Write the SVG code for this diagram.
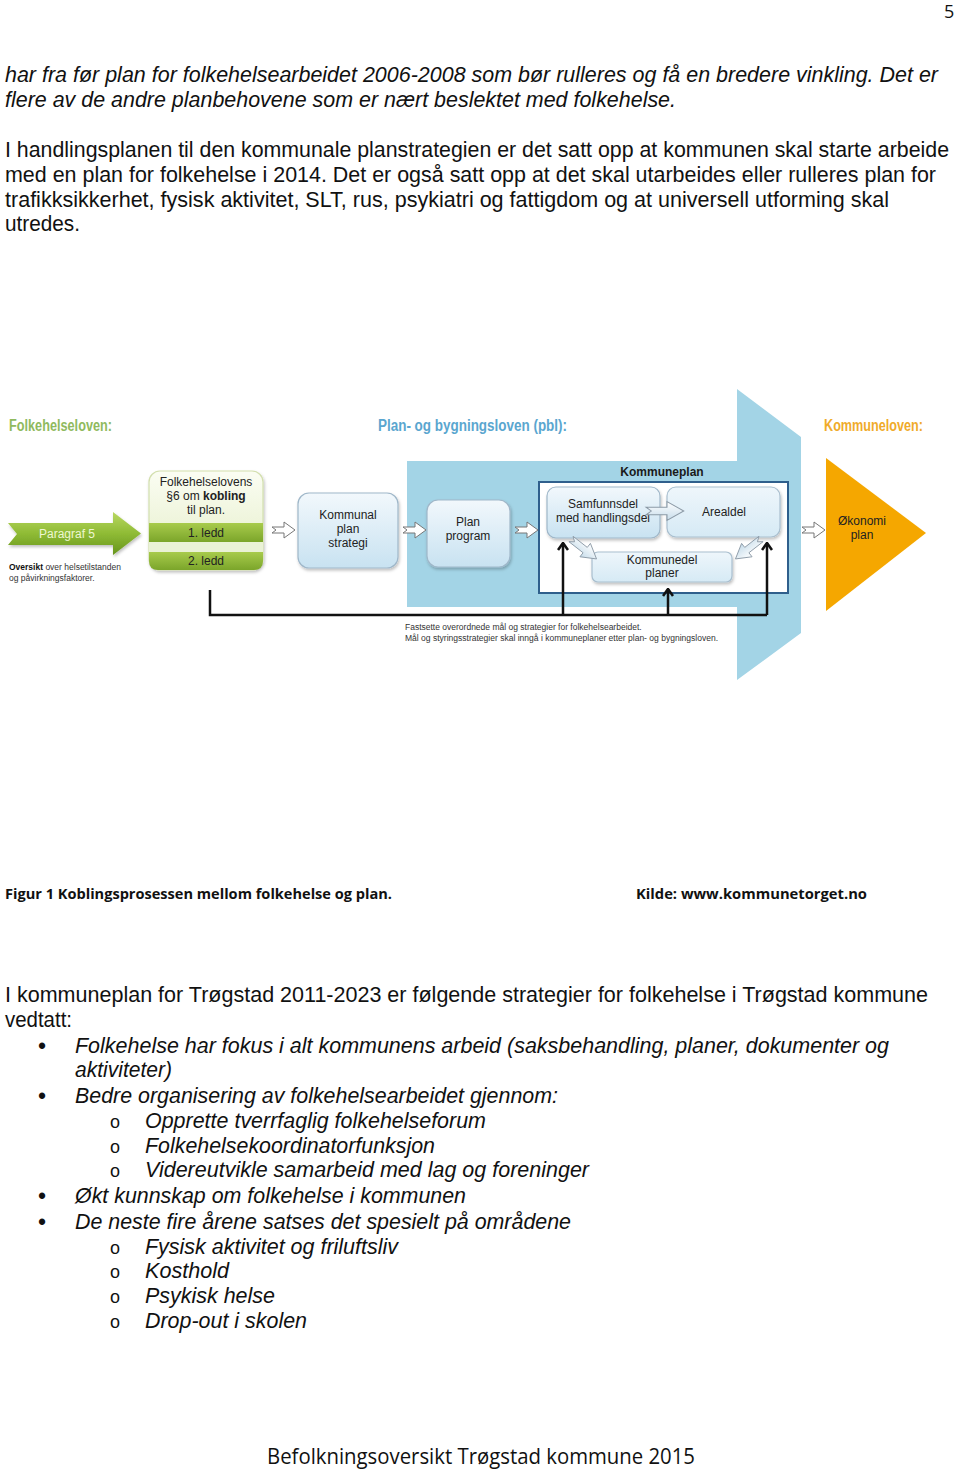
<svg xmlns="http://www.w3.org/2000/svg" width="960" height="1470" viewBox="0 0 960 1470">
<style>
.body{font-family:"Liberation Sans",Arial,sans-serif;font-size:22px;fill:#111}
.it{font-style:italic}
.cal{font-family:"Open Sans","Liberation Sans",sans-serif;fill:#111}
.dg{font-family:"Liberation Sans",Arial,sans-serif;fill:#222;text-anchor:middle;font-size:12px}
.hdr{font-family:"Liberation Sans",Arial,sans-serif;font-weight:bold;font-size:16px}
.small{font-family:"Liberation Sans",Arial,sans-serif;font-size:8.5px;fill:#333}
.bx{fill:url(#gBlue);stroke:#9fb7c9;stroke-width:1.2}
.sa{fill:#fff;stroke:#777;stroke-width:1}
.ba{fill:url(#gArr);stroke:#8c9aa6;stroke-width:1}
.ln{fill:none;stroke:#111;stroke-width:2.5}
</style>
<defs>
<linearGradient id="gBlue" x1="0" y1="0" x2="0" y2="1"><stop offset="0" stop-color="#f2f8fc"/><stop offset="1" stop-color="#c8e2f1"/></linearGradient>
<linearGradient id="gBlue2" x1="0" y1="0" x2="0" y2="1"><stop offset="0" stop-color="#eef6fb"/><stop offset="1" stop-color="#d6eaf5"/></linearGradient>
<linearGradient id="gArr" x1="0" y1="0" x2="0" y2="1"><stop offset="0" stop-color="#ffffff"/><stop offset="1" stop-color="#c6dcea"/></linearGradient>
<linearGradient id="gCream" x1="0" y1="0" x2="0" y2="1"><stop offset="0" stop-color="#fbfdf3"/><stop offset="1" stop-color="#e3edc6"/></linearGradient>
<linearGradient id="gGreen" x1="0" y1="0" x2="0" y2="1"><stop offset="0" stop-color="#b9d862"/><stop offset="0.5" stop-color="#8fbb35"/><stop offset="1" stop-color="#66941c"/></linearGradient>
<linearGradient id="gBar" x1="0" y1="0" x2="0" y2="1"><stop offset="0" stop-color="#a8cb4c"/><stop offset="1" stop-color="#7ba52a"/></linearGradient>
<filter id="sh" x="-10%" y="-10%" width="130%" height="140%"><feDropShadow dx="1" dy="2" stdDeviation="1.5" flood-color="#000" flood-opacity="0.25"/></filter>
<path id="smallArrow" d="M0,-3 L12,-3 L12,-8 L23,0 L12,8 L12,3 L0,3 L4,0 Z"/>
<path id="bigArrow" d="M0,-4 L20,-4 L20,-10 L36,0 L20,10 L20,4 L0,4 L5,0 Z"/>
<marker id="up" viewBox="0 0 10 12" refX="8.5" refY="6" markerWidth="10" markerHeight="12" markerUnits="userSpaceOnUse" orient="auto"><path d="M1.5,1 L8.5,6 L1.5,11" fill="none" stroke="#111" stroke-width="2.6"/></marker>
</defs>
<rect width="960" height="1470" fill="#fff"/>

<!-- page text -->
<g id="page-text">
<text class="cal" x="944" y="18" font-size="18">5</text>
<text class="body it" x="5" y="82" textLength="933" lengthAdjust="spacingAndGlyphs">har fra før plan for folkehelsearbeidet 2006-2008 som bør rulleres og få en bredere vinkling. Det er</text>
<text class="body it" x="5" y="107" textLength="671" lengthAdjust="spacingAndGlyphs">flere av de andre planbehovene som er nært beslektet med folkehelse.</text>
<text class="body" x="5" y="157" font-size="20" textLength="944" lengthAdjust="spacingAndGlyphs">I handlingsplanen til den kommunale planstrategien er det satt opp at kommunen skal starte arbeide</text>
<text class="body" x="5" y="182" textLength="931" lengthAdjust="spacingAndGlyphs">med en plan for folkehelse i 2014. Det er også satt opp at det skal utarbeides eller rulleres plan for</text>
<text class="body" x="5" y="207" textLength="884" lengthAdjust="spacingAndGlyphs">trafikksikkerhet, fysisk aktivitet, SLT, rus, psykiatri og fattigdom og at universell utforming skal</text>
<text class="body" x="5" y="231" textLength="75" lengthAdjust="spacingAndGlyphs">utredes.</text>

<text class="cal" x="5" y="899" font-size="15" font-weight="bold" textLength="387" lengthAdjust="spacingAndGlyphs">Figur 1 Koblingsprosessen mellom folkehelse og plan.</text>
<text class="cal" x="636" y="899" font-size="15" font-weight="bold" textLength="231" lengthAdjust="spacingAndGlyphs">Kilde: www.kommunetorget.no</text>

<text class="body" x="5" y="1002" textLength="923" lengthAdjust="spacingAndGlyphs">I kommuneplan for Trøgstad 2011-2023 er følgende strategier for folkehelse i Trøgstad kommune</text>
<text class="body" x="5" y="1027" textLength="67" lengthAdjust="spacingAndGlyphs">vedtatt:</text>
<g class="body">
<text x="38" y="1054" font-size="23">•</text>
<text x="38" y="1104" font-size="23">•</text>
<text x="38" y="1204" font-size="23">•</text>
<text x="38" y="1230" font-size="23">•</text>
<text x="110" y="1128" font-size="18">o</text>
<text x="110" y="1153" font-size="18">o</text>
<text x="110" y="1177" font-size="18">o</text>
<text x="110" y="1254" font-size="18">o</text>
<text x="110" y="1278" font-size="18">o</text>
<text x="110" y="1303" font-size="18">o</text>
<text x="110" y="1328" font-size="18">o</text>
</g>
<g class="body it">
<text x="75" y="1053" textLength="814" lengthAdjust="spacingAndGlyphs">Folkehelse har fokus i alt kommunens arbeid (saksbehandling, planer, dokumenter og</text>
<text x="75" y="1077" textLength="97" lengthAdjust="spacingAndGlyphs">aktiviteter)</text>
<text x="75" y="1103" textLength="483" lengthAdjust="spacingAndGlyphs">Bedre organisering av folkehelsearbeidet gjennom:</text>
<text x="145" y="1128" textLength="341" lengthAdjust="spacingAndGlyphs">Opprette tverrfaglig folkehelseforum</text>
<text x="145" y="1153" textLength="290" lengthAdjust="spacingAndGlyphs">Folkehelsekoordinatorfunksjon</text>
<text x="145" y="1177" textLength="444" lengthAdjust="spacingAndGlyphs">Videreutvikle samarbeid med lag og foreninger</text>
<text x="75" y="1203" textLength="391" lengthAdjust="spacingAndGlyphs">Økt kunnskap om folkehelse i kommunen</text>
<text x="75" y="1229" textLength="496" lengthAdjust="spacingAndGlyphs">De neste fire årene satses det spesielt på områdene</text>
<text x="145" y="1254" textLength="253" lengthAdjust="spacingAndGlyphs">Fysisk aktivitet og friluftsliv</text>
<text x="145" y="1278" textLength="84" lengthAdjust="spacingAndGlyphs">Kosthold</text>
<text x="145" y="1303" textLength="130" lengthAdjust="spacingAndGlyphs">Psykisk helse</text>
<text x="145" y="1328" textLength="162" lengthAdjust="spacingAndGlyphs">Drop-out i skolen</text>
</g>
<text class="cal" x="267" y="1464" font-size="22" textLength="428" lengthAdjust="spacingAndGlyphs">Befolkningsoversikt Trøgstad kommune 2015</text>
</g>

<!-- diagram background -->
<g id="pbl-band">
<path d="M407,461 L737,461 L737,389 L801,437 L801,633 L737,680 L737,607 L407,607 Z" fill="#a3d4e6"/>
</g>

<!-- headers -->
<g id="headers">
<text class="hdr" x="9" y="431" fill="#8fba5e" textLength="103" lengthAdjust="spacingAndGlyphs">Folkehelseloven:</text>
<text class="hdr" x="378" y="431" fill="#5aa6cf" textLength="189" lengthAdjust="spacingAndGlyphs">Plan- og bygningsloven (pbl):</text>
<text class="hdr" x="824" y="431" fill="#f0ab2a" textLength="99" lengthAdjust="spacingAndGlyphs">Kommuneloven:</text>
</g>

<g id="paragraf5">
<path d="M8,523 L113,523 L113,512 L141,533.5 L113,555 L113,545 L8,545 L17,534 Z" fill="url(#gGreen)" filter="url(#sh)"/>
<text class="dg" x="67" y="538" font-size="12.5" style="fill:#eef7d2">Paragraf 5</text>
<text class="small" x="9" y="570"><tspan font-weight="bold" fill="#111">Oversikt</tspan> over helsetilstanden</text>
<text class="small" x="9" y="581">og påvirkningsfaktorer.</text>
</g>

<g id="folkehelse-paragraf6">
<rect x="149" y="471" width="114" height="99" rx="11" fill="url(#gCream)" stroke="#d3dfae" stroke-width="1.2" filter="url(#sh)"/>
<text class="dg" x="206" y="486">Folkehelselovens</text>
<text class="dg" x="206" y="500">§6 om <tspan font-weight="bold">kobling</tspan></text>
<text class="dg" x="206" y="514">til plan.</text>
<rect x="149" y="523" width="114" height="19" fill="url(#gBar)"/>
<rect x="149" y="542" width="114" height="10" fill="#eaf2d6"/>
<path d="M149,552 L263,552 L263,561 Q263,570 254,570 L158,570 Q149,570 149,561 Z" fill="url(#gBar)"/>
<text class="dg" x="206" y="537">1. ledd</text>
<text class="dg" x="206" y="565">2. ledd</text>
</g>

<g id="kommunal-planstrategi">
<rect class="bx" x="298" y="493" width="100" height="75" rx="11" filter="url(#sh)"/>
<text class="dg" x="348" y="519">Kommunal</text>
<text class="dg" x="348" y="533">plan</text>
<text class="dg" x="348" y="547">strategi</text>
</g>

<g id="planprogram">
<rect class="bx" x="427" y="500" width="83" height="67" rx="11" filter="url(#sh)"/>
<text class="dg" x="468" y="526">Plan</text>
<text class="dg" x="468" y="540">program</text>
</g>

<g id="kommuneplan">
<rect x="539" y="482" width="249" height="111" fill="#fff" stroke="#2f5f8c" stroke-width="2"/>
<text class="dg" x="662" y="476" font-weight="bold" style="fill:#1a1a1a">Kommuneplan</text>
</g>

<g id="samfunnsdel">
<rect class="bx" x="547" y="487" width="113" height="51" rx="9" filter="url(#sh)"/>
<text class="dg" x="603" y="508">Samfunnsdel</text>
<text class="dg" x="603" y="522">med handlingsdel</text>
</g>

<g id="arealdel">
<rect x="667" y="487" width="113" height="50" rx="9" fill="url(#gBlue2)" stroke="#a9bfcf" stroke-width="1.2" filter="url(#sh)"/>
<text class="dg" x="724" y="516">Arealdel</text>
</g>

<g id="kommunedelplaner">
<rect x="592" y="552" width="140" height="30" rx="6" fill="url(#gBlue2)" stroke="#a9bfcf" stroke-width="1.2" filter="url(#sh)"/>
<text class="dg" x="662" y="564">Kommunedel</text>
<text class="dg" x="662" y="577">planer</text>
</g>

<g id="okonomiplan">
<path d="M826,458 L926,533 L826,611 Z" fill="#f5a700"/>
<text class="dg" x="862" y="525">Økonomi</text>
<text class="dg" x="862" y="539">plan</text>
</g>

<g id="footnote">
<text class="small" x="405" y="630">Fastsette overordnede mål og strategier for folkehelsearbeidet.</text>
<text class="small" x="405" y="641" textLength="313" lengthAdjust="spacingAndGlyphs">Mål og styringsstrategier skal inngå i kommuneplaner etter plan- og bygningsloven.</text>
</g>

<g id="connectors">
<use href="#smallArrow" class="sa" transform="translate(272,530)"/>
<use href="#smallArrow" class="sa" transform="translate(403,530)"/>
<use href="#smallArrow" class="sa" transform="translate(515,530)"/>
<use href="#smallArrow" class="sa" transform="translate(802,530)"/>
<use href="#bigArrow" class="ba" transform="translate(646,511) scale(1.05,0.95)"/>
<use href="#bigArrow" class="ba" transform="translate(571,539) rotate(38) scale(0.9,0.85)"/>
<use href="#bigArrow" class="ba" transform="translate(761,539) rotate(142) scale(0.9,0.85)"/>
<path class="ln" d="M210,590 L210,615 L767,615"/>
<path class="ln" d="M563,615 L563,543" marker-end="url(#up)"/>
<path class="ln" d="M668,615 L668,589" marker-end="url(#up)"/>
<path class="ln" d="M767,615 L767,543" marker-end="url(#up)"/>
</g>
</svg>
